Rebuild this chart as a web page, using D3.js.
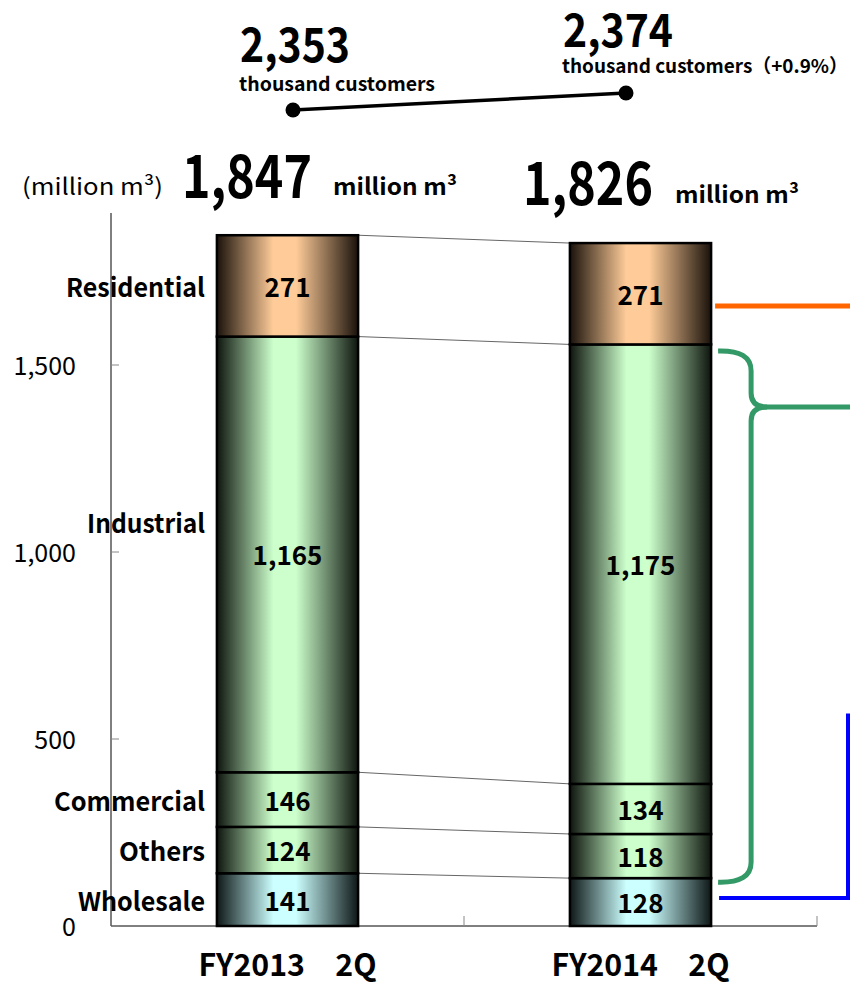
<!DOCTYPE html>
<html>
<head>
<meta charset="utf-8">
<script src="https://cdn.jsdelivr.net/npm/d3@7"></script>
<style>
  body { margin: 0; background: #fff; }
  svg { display: block; }
  text { font-family: "Noto Sans CJK JP", "Noto Sans", sans-serif; fill: #000; }
</style>
</head>
<body>
<svg id="chart"></svg>
<script>
// Gas sales volume by use, FY2013 2Q vs FY2014 2Q (million m3)
var periods = ['FY2013\u30002Q', 'FY2014\u30002Q'];
var segments = ['Wholesale', 'Others', 'Commercial', 'Industrial', 'Residential'];
var wholesale = [141, 128];
var others = [124, 118];
var commercial = [146, 134];
var industrial = [1165, 1175];
var residential = [271, 271];
var totals = ['1,847', '1,826'];
var customers = [2353, 2374];
var customerLabels = ['2,353', '2,374'];
var yTicks = [0, 500, 1000, 1500];

var svg = d3.select('#chart').attr('width', 850).attr('height', 983);

var rows = periods.map(function(p, i) {
	return {period: p, Wholesale: wholesale[i], Others: others[i], Commercial: commercial[i],
		Industrial: industrial[i], Residential: residential[i]};
});
var stack = d3.stack().keys(segments)(rows);

var x = d3.scaleBand().domain(periods).range([111, 817]).padding(0);
var barW = x.bandwidth() * 0.4;
var y = d3.scaleLinear().domain([0, 1500]).range([926, 365]);

// squeeze a text to a given width (the original uses a narrow gothic face)
function fit(sel, w) {
	return sel.attr('textLength', w).attr('lengthAdjust', 'spacingAndGlyphs');
}

// gradients: dark edges, light centre
var defs = svg.append('defs');
var grads = {Residential: ['#1a120b', '#ffcc99'], Industrial: ['#0e150e', '#ccffcc'],
	Commercial: ['#0e150e', '#ccffcc'], Others: ['#0e150e', '#ccffcc'], Wholesale: ['#0e1717', '#ccffff']};
Object.keys(grads).forEach(function(k) {
	var g = defs.append('linearGradient').attr('id', 'g-' + k).attr('x1', 0).attr('x2', 1).attr('y1', 0).attr('y2', 0);
	g.append('stop').attr('offset', 0).attr('stop-color', grads[k][0]);
	g.append('stop').attr('offset', 0.4).attr('stop-color', grads[k][1]);
	g.append('stop').attr('offset', 0.56).attr('stop-color', grads[k][1]);
	g.append('stop').attr('offset', 1).attr('stop-color', grads[k][0]);
});

function barX(p) { return x(p) + (x.bandwidth() - barW) / 2; }

// axes
svg.append('line').attr('x1', 111).attr('x2', 111).attr('y1', 213).attr('y2', y(0)).attr('stroke', '#000');
svg.append('line').attr('x1', 111).attr('x2', 817).attr('y1', y(0)).attr('y2', y(0)).attr('stroke', '#000');
svg.selectAll('.ytick').data(yTicks).join('line')
	.attr('x1', 111).attr('x2', 119).attr('y1', function(d) { return y(d); }).attr('y2', function(d) { return y(d); })
	.attr('stroke', '#888');
svg.selectAll('.ylab').data(yTicks).join('text')
	.attr('x', 76).attr('y', function(d) { return y(d) + 10; })
	.attr('text-anchor', 'end').style('font-size', '25px')
	.text(function(d) { return d3.format(',')(d); });
svg.selectAll('.xtick').data([x(periods[1]), 817]).join('line')
	.attr('x1', function(d) { return d; }).attr('x2', function(d) { return d; })
	.attr('y1', y(0) - 10).attr('y2', y(0)).attr('stroke', '#888');

// connector lines between bars
stack.forEach(function(s) {
	svg.append('line')
		.attr('x1', barX(periods[0]) + barW).attr('y1', y(s[0][1]))
		.attr('x2', barX(periods[1])).attr('y2', y(s[1][1]))
		.attr('stroke', '#666').attr('stroke-width', 1);
});

// stacked bars
var layer = svg.selectAll('.layer').data(stack).join('g').attr('class', 'layer');
layer.selectAll('rect').data(function(d) { return d.map(function(v) { v.key = d.key; return v; }); }).join('rect')
	.attr('x', function(d) { return barX(d.data.period); })
	.attr('width', barW)
	.attr('y', function(d) { return y(d[1]); })
	.attr('height', function(d) { return y(d[0]) - y(d[1]); })
	.attr('fill', function(d) { return 'url(#g-' + d.key + ')'; })
	.attr('stroke', '#000').attr('stroke-width', 2.5);
layer.selectAll('text').data(function(d) { return d; }).join('text')
	.attr('x', function(d) { return barX(d.data.period) + barW / 2; })
	.attr('y', function(d) { return (y(d[0]) + y(d[1])) / 2 + 11; })
	.attr('text-anchor', 'middle').style('font-size', '26px').style('font-weight', 'bold')
	.text(function(d) { return d3.format(',')(d[1] - d[0]); });

// segment names beside first bar
var segWidths = {Residential: 139, Industrial: 118, Commercial: 151, Others: 86, Wholesale: 127};
svg.selectAll('.seglab').data(stack).join('text')
	.attr('x', 205)
	.attr('y', function(d) { return (y(d[0][0]) + y(d[0][1])) / 2 + 11 - (d.key === 'Industrial' ? 32 : 0); })
	.attr('text-anchor', 'end').style('font-size', '26px').style('font-weight', 'bold')
	.text(function(d) { return d.key; })
	.each(function(d) { fit(d3.select(this), segWidths[d.key]); });

// category labels
svg.selectAll('.xlab').data(periods).join('text')
	.attr('x', function(d) { return x(d) + x.bandwidth() / 2; }).attr('y', 976)
	.attr('text-anchor', 'middle').style('font-size', '31px').style('font-weight', 'bold')
	.text(function(d) { return d; })
	.call(fit, 178);

// totals
fit(svg.append('text').attr('x', 22).attr('y', 195).style('font-size', '23px').text('(million m\u00b3)'), 141);
[[182, 198, 333, 195], [523, 205, 675, 203]].forEach(function(p, i) {
	fit(svg.append('text').attr('x', p[0]).attr('y', p[1]).style('font-size', '59px').style('font-weight', 'bold')
		.text(totals[i]), 130);
	fit(svg.append('text').attr('x', p[2]).attr('y', p[3]).style('font-size', '23px').style('font-weight', 'bold')
		.text('million m\u00b3'), 124);
});

// customers mini line
var cx = d3.scalePoint().domain(periods).range([293, 626]);
var cy = d3.scaleLinear().domain([2353, 2374]).range([110, 93]);
svg.append('path')
	.attr('d', d3.line().x(function(d, i) { return cx(periods[i]); }).y(function(d) { return cy(d); })(customers))
	.attr('fill', 'none').attr('stroke', '#000').attr('stroke-width', 3.5);
svg.selectAll('.cdot').data(customers).join('circle')
	.attr('cx', function(d, i) { return cx(periods[i]); }).attr('cy', function(d) { return cy(d); })
	.attr('r', 7.5).attr('fill', '#000');
fit(svg.append('text').attr('x', 240).attr('y', 62).style('font-size', '47px').style('font-weight', 'bold')
	.text(customerLabels[0]), 110);
fit(svg.append('text').attr('x', 239).attr('y', 91).style('font-size', '19px').style('font-weight', 'bold')
	.text('thousand customers'), 196);
fit(svg.append('text').attr('x', 563).attr('y', 47).style('font-size', '46px').style('font-weight', 'bold')
	.text(customerLabels[1]), 110);
fit(svg.append('text').attr('x', 562).attr('y', 73).style('font-size', '19px').style('font-weight', 'bold')
	.text('thousand customers\uff08+0.9%\uff09'), 286);

// right-hand annotations
var bx = barX(periods[1]) + barW;
var s1 = stack.map(function(s) { return s[1]; });
svg.append('line').attr('x1', bx + 4).attr('x2', 850)
	.attr('y1', y(1658)).attr('y2', y(1658)).attr('stroke', '#ff6600').attr('stroke-width', 5);
var braceTop = y(s1[3][1]) + 6.5, braceBot = y(s1[0][1]) + 4, braceMid = y(1388);
var bxr = bx + 40;
var brace = d3.path();
brace.moveTo(bx + 7, braceTop);
brace.quadraticCurveTo(bxr, braceTop - 1, bxr, braceTop + 20);
brace.lineTo(bxr, braceMid - 14);
brace.quadraticCurveTo(bxr, braceMid, bx + 56, braceMid);
brace.quadraticCurveTo(bxr, braceMid, bxr, braceMid + 14);
brace.lineTo(bxr, braceBot - 20);
brace.quadraticCurveTo(bxr, braceBot + 1, bx + 7, braceBot);
svg.append('path').attr('d', brace.toString()).attr('fill', 'none').attr('stroke', '#339966').attr('stroke-width', 5);
svg.append('line').attr('x1', bx + 50).attr('x2', 850).attr('y1', braceMid).attr('y2', braceMid)
	.attr('stroke', '#339966').attr('stroke-width', 5);
svg.append('path')
	.attr('d', 'M' + (bx + 8) + ',' + y(75) + 'H848V' + y(568))
	.attr('fill', 'none').attr('stroke', '#0000ff').attr('stroke-width', 4);
</script>
</body>
</html>
